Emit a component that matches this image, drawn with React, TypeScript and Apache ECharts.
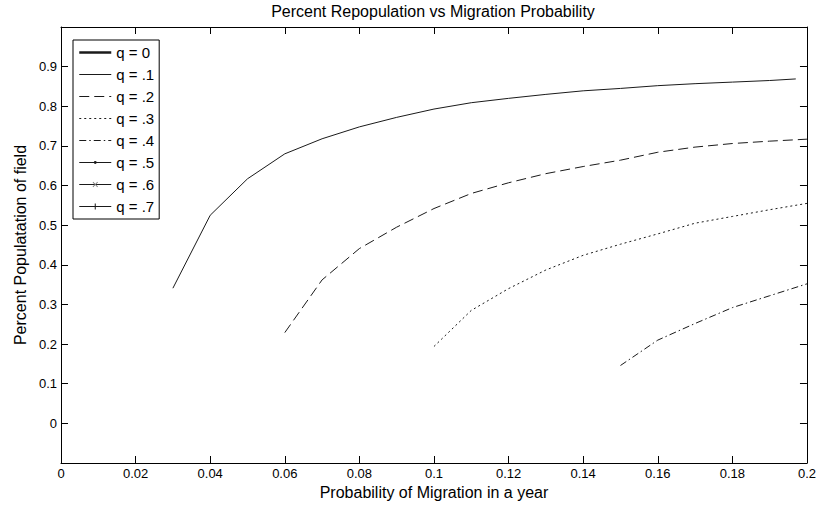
import React, { useEffect, useRef } from "react";
import * as echarts from "echarts";

// ---- data ----
const seriesNames = ["q = 0", "q = .1", "q = .2", "q = .3", "q = .4", "q = .5", "q = .6", "q = .7"];

const q0X: number[] = [];
const q0Y: number[] = [];

const q1X = [0.03, 0.04, 0.05, 0.06, 0.07, 0.08, 0.09, 0.1, 0.11, 0.12, 0.13, 0.14, 0.15, 0.16, 0.17, 0.18, 0.19, 0.197];
const q1Y = [0.341, 0.525, 0.617, 0.68, 0.718, 0.748, 0.772, 0.793, 0.809, 0.82, 0.83, 0.839, 0.845, 0.852, 0.857, 0.861, 0.865, 0.869];

const q2X = [0.06, 0.07, 0.08, 0.09, 0.1, 0.11, 0.12, 0.13, 0.14, 0.15, 0.16, 0.17, 0.18, 0.19, 0.2];
const q2Y = [0.229, 0.362, 0.441, 0.495, 0.542, 0.58, 0.607, 0.63, 0.648, 0.664, 0.684, 0.697, 0.706, 0.712, 0.717];

const q3X = [0.1, 0.11, 0.12, 0.13, 0.14, 0.15, 0.16, 0.17, 0.18, 0.19, 0.2];
const q3Y = [0.194, 0.285, 0.34, 0.387, 0.424, 0.452, 0.478, 0.505, 0.522, 0.539, 0.555];

const q4X = [0.15, 0.16, 0.17, 0.18, 0.19, 0.2];
const q4Y = [0.146, 0.21, 0.252, 0.292, 0.322, 0.352];

const emptyX: number[] = [];
const emptyY: number[] = [];

const xTicks = { min: 0, max: 0.2, interval: 0.02 };
const yTicks = { min: -0.1, max: 1.0, interval: 0.1 };
const yLabelsShown = [0, 0.1, 0.2, 0.3, 0.4, 0.5, 0.6, 0.7, 0.8, 0.9];

const FONT = "'Liberation Sans', Arial, Helvetica, sans-serif";
const INK = "#1a1a1a";

const pad = "M-5.5,-5.5M5.5,5.5";
const dotPath = "path://" + pad + "M-1.4,0a1.4,1.4 0 1,0 2.8,0a1.4,1.4 0 1,0 -2.8,0z";
const xPath =
  "path://" + pad + "M-2,-2.6L0,-0.6L2,-2.6L2.6,-2L0.6,0L2.6,2L2,2.6L0,0.6L-2,2.6L-2.6,2L-0.6,0L-2.6,-2Z";
const plusPath =
  "path://" + pad + "M-0.5,-3L0.5,-3L0.5,-0.5L3,-0.5L3,0.5L0.5,0.5L0.5,3L-0.5,3L-0.5,0.5L-3,0.5L-3,-0.5L-0.5,-0.5Z";

const lineWidths = [2.5, 1, 1, 1, 1, 1, 1, 1];
const lineTypes: any[] = ["solid", "solid", [10, 5], [2, 3], [7, 3, 1.5, 3], "solid", "solid", "solid"];

const pairs = (xs: number[], ys: number[]) => xs.map((x, i) => [x, ys[i]]);

export default function App() {
  const ref = useRef<HTMLDivElement>(null);
  useEffect(() => {
    if (!ref.current) return;
    const chart = echarts.init(ref.current, undefined, { renderer: "svg" });
    const lineSeries = (
      idx: number,
      xs: number[],
      ys: number[],
      symbol: string = "none",
      color: string = INK
    ) => ({
      name: seriesNames[idx],
      type: "line",
      data: pairs(xs, ys),
      symbol,
      showSymbol: false,
      color,
      lineStyle: { color: INK, width: lineWidths[idx], type: lineTypes[idx] },
      emphasis: { disabled: true },
      silent: true,
    });
    chart.setOption({
      animation: false,
      backgroundColor: "#fff",
      textStyle: { fontFamily: FONT },
      title: {
        text: "Percent Repopulation vs Migration Probability",
        left: 433,
        textAlign: "center",
        top: 3,
        padding: 0,
        textStyle: { fontSize: 16, fontWeight: "normal", color: "#000", fontFamily: FONT },
      },
      grid: { left: 61, right: 10, top: 27, bottom: 43, containLabel: false },
      legend: {
        orient: "vertical",
        left: 73,
        top: 40,
        padding: [5, 5, 5, 5],
        itemWidth: 32,
        itemHeight: 14,
        itemGap: 7,
        backgroundColor: "#fff",
        borderColor: "#000",
        borderWidth: 1,
        borderRadius: 0,
        selectedMode: false,
        textStyle: { fontSize: 15, color: "#000", fontFamily: FONT },
        data: seriesNames.map((n, i) => ({
          name: n,
          lineStyle: { width: lineWidths[i], type: lineTypes[i], color: INK },
          ...(i < 5 ? { itemStyle: { opacity: 0 } } : {}),
        })),
      },
      xAxis: [
        {
          type: "value",
          min: xTicks.min,
          max: xTicks.max,
          interval: xTicks.interval,
          position: "bottom",
          name: "Probability of Migration in a year",
          nameLocation: "middle",
          nameGap: 20,
          nameTextStyle: { fontSize: 16, color: "#000", fontFamily: FONT },
          axisLine: { show: true, onZero: false, lineStyle: { color: "#000", width: 1 } },
          axisTick: { show: true, inside: true, length: 7, lineStyle: { color: "#000" } },
          axisLabel: {
            fontSize: 13,
            color: "#000",
            margin: 4,
            fontFamily: FONT,
            formatter: (v: number) => String(parseFloat(v.toFixed(2))),
          },
          splitLine: { show: false },
        },
        {
          type: "value",
          min: xTicks.min,
          max: xTicks.max,
          interval: xTicks.interval,
          position: "top",
          axisLine: { show: true, onZero: false, lineStyle: { color: "#000", width: 1 } },
          axisTick: { show: true, inside: true, length: 7, lineStyle: { color: "#000" } },
          axisLabel: { show: false },
          splitLine: { show: false },
        },
      ],
      yAxis: [
        {
          type: "value",
          min: yTicks.min,
          max: yTicks.max,
          interval: yTicks.interval,
          position: "left",
          name: "Percent Populatation of field",
          nameLocation: "middle",
          nameRotate: 90,
          nameGap: 30,
          nameTextStyle: { fontSize: 16, color: "#000", fontFamily: FONT },
          axisLine: { show: true, onZero: false, lineStyle: { color: "#000", width: 1 } },
          axisTick: { show: true, inside: true, length: 7, lineStyle: { color: "#000" } },
          axisLabel: {
            fontSize: 13,
            color: "#000",
            margin: 4,
            fontFamily: FONT,
            formatter: (v: number) => {
              const r = parseFloat(v.toFixed(2));
              return yLabelsShown.some((s) => Math.abs(s - r) < 1e-9) ? String(r) : "";
            },
          },
          splitLine: { show: false },
        },
        {
          type: "value",
          min: yTicks.min,
          max: yTicks.max,
          interval: yTicks.interval,
          position: "right",
          axisLine: { show: true, onZero: false, lineStyle: { color: "#000", width: 1 } },
          axisTick: { show: true, inside: true, length: 7, lineStyle: { color: "#000" } },
          axisLabel: { show: false },
          splitLine: { show: false },
        },
      ],
      series: [
        lineSeries(0, q0X, q0Y),
        lineSeries(1, q1X, q1Y),
        lineSeries(2, q2X, q2Y),
        lineSeries(3, q3X, q3Y),
        lineSeries(4, q4X, q4Y),
        lineSeries(5, emptyX, emptyY, dotPath, INK),
        lineSeries(6, emptyX, emptyY, xPath, "#777"),
        lineSeries(7, emptyX, emptyY, plusPath, INK),
      ],
    });
    return () => chart.dispose();
  }, []);
  return (
    <div
      ref={ref}
      style={{ position: "absolute", left: 0, top: 0, width: 819, height: 506 }}
    />
  );
}
